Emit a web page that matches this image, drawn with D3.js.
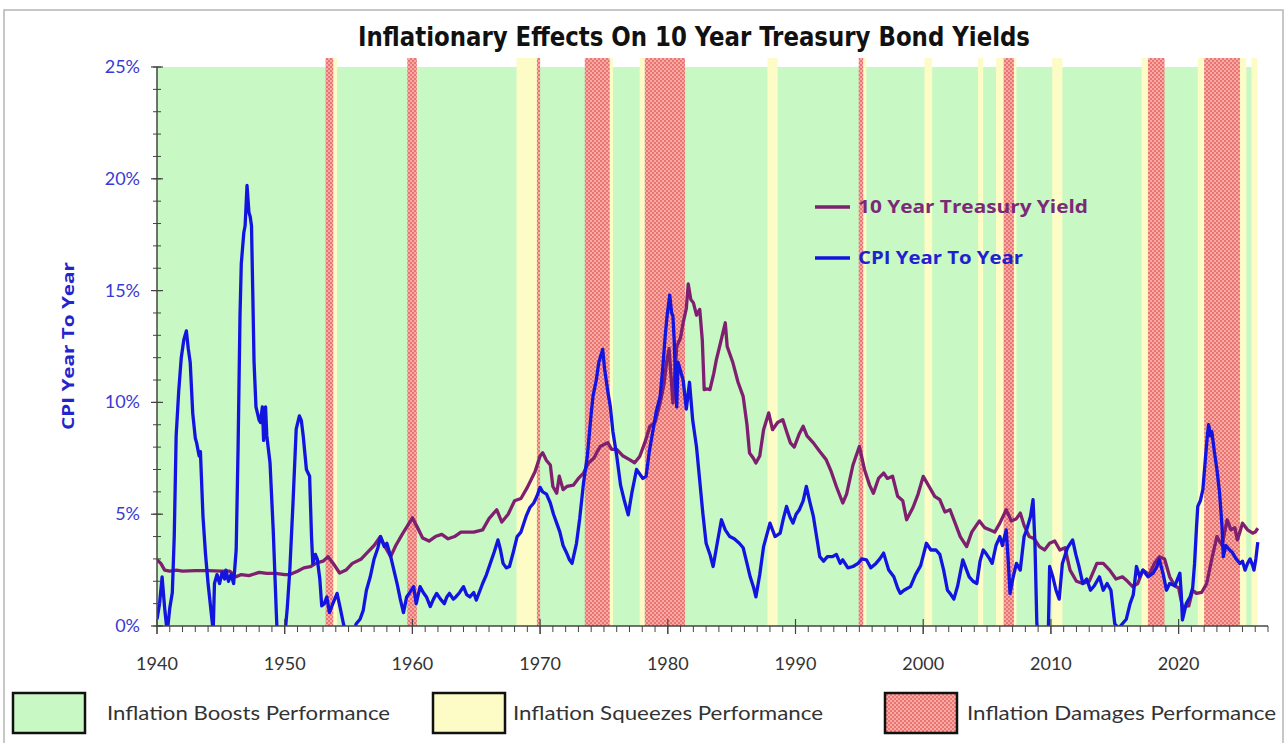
<!DOCTYPE html>
<html><head><meta charset="utf-8">
<script src="https://cdn.jsdelivr.net/npm/d3@7"></script>
<style>body{margin:0;background:#fff}svg{display:block}</style>
</head><body>
<svg id="chart" width="1287" height="743"></svg>
<script>
// ---------------- DATA ----------------
const chartTitle = "Inflationary Effects On 10 Year Treasury Bond Yields";
const yAxisTitle = "CPI Year To Year";
const xTickYears = [1940, 1950, 1960, 1970, 1980, 1990, 2000, 2010, 2020];
const yTickValues = [0, 5, 10, 15, 20, 25];
const seriesNames = ["10 Year Treasury Yield", "CPI Year To Year"];
const legendNames = ["Inflation Boosts Performance", "Inflation Squeezes Performance", "Inflation Damages Performance"];

// Regime bands [start, end]
const damageBands = [[1953.2,1953.8],[1959.6,1960.35],[1969.75,1970.0],[1973.5,1975.45],[1978.2,1981.35],
  [1994.95,1995.3],[2006.3,2007.1],[2017.6,2018.9],[2022.0,2024.8]];
const squeezeBands = [[1953.8,1954.1],[1968.15,1969.75],[1975.45,1975.7],[1977.8,1978.2],[1987.8,1988.6],
  [1995.3,1995.55],[2000.1,2000.7],[2004.3,2004.7],[2005.7,2006.3],[2007.1,2007.3],[2010.1,2010.9],
  [2017.1,2017.6],[2021.5,2022.0],[2024.8,2025.3],[2025.7,2026.15]];
const boostSpan = [1940, 2026.15];

// CPI year-over-year (%)
const cpiYears = [1940.0,1940.2,1940.4,1940.6,1940.8,1941.0,1941.2,1941.35,1941.5,1941.7,1941.9,1942.1,1942.3,1942.45,1942.6,1942.8,1943.0,1943.1,1943.3,1943.4,1943.6,1943.8,1944.0,1944.3,1944.4,1944.5,1944.7,1944.9,1945.1,1945.3,1945.4,1945.6,1945.8,1946.0,1946.2,1946.35,1946.5,1946.6,1946.8,1946.9,1947.05,1947.2,1947.3,1947.4,1947.5,1947.6,1947.75,1948.0,1948.1,1948.25,1948.35,1948.5,1948.6,1948.85,1949.1,1949.35,1949.5,1949.8,1950.0,1950.2,1950.4,1950.65,1950.9,1951.15,1951.3,1951.45,1951.7,1951.95,1952.1,1952.2,1952.4,1952.55,1952.75,1952.9,1953.1,1953.3,1953.5,1953.7,1954.1,1954.35,1954.6,1954.9,1955.3,1955.6,1955.9,1956.15,1956.4,1956.7,1957.0,1957.3,1957.5,1957.8,1958.0,1958.3,1958.55,1958.8,1959.05,1959.3,1959.55,1959.8,1960.1,1960.3,1960.6,1960.85,1961.1,1961.4,1961.65,1961.9,1962.2,1962.5,1962.7,1962.9,1963.2,1963.4,1963.7,1964.0,1964.25,1964.5,1964.8,1965.0,1965.3,1965.5,1965.8,1966.1,1966.4,1966.7,1966.9,1967.1,1967.35,1967.6,1967.9,1968.2,1968.5,1968.9,1969.2,1969.5,1969.75,1970.0,1970.2,1970.5,1970.8,1971.05,1971.3,1971.55,1971.8,1972.05,1972.3,1972.5,1972.85,1973.1,1973.4,1973.7,1974.0,1974.15,1974.4,1974.6,1974.9,1975.05,1975.3,1975.5,1975.7,1976.0,1976.3,1976.6,1976.9,1977.2,1977.55,1977.8,1978.05,1978.3,1978.55,1978.85,1979.1,1979.4,1979.6,1979.8,1979.95,1980.15,1980.3,1980.4,1980.5,1980.6,1980.7,1980.8,1981.0,1981.2,1981.45,1981.7,1981.95,1982.25,1982.5,1982.75,1983.0,1983.3,1983.55,1983.9,1984.2,1984.5,1984.85,1985.2,1985.6,1985.9,1986.2,1986.45,1986.7,1986.9,1987.2,1987.5,1988.0,1988.4,1988.8,1989.05,1989.3,1989.55,1989.8,1990.05,1990.3,1990.6,1990.85,1991.1,1991.4,1991.65,1991.9,1992.2,1992.5,1992.9,1993.2,1993.5,1993.7,1994.1,1994.5,1994.9,1995.2,1995.55,1995.9,1996.3,1996.6,1996.9,1997.3,1997.7,1998.0,1998.2,1998.5,1999.0,1999.4,1999.8,2000.25,2000.6,2001.0,2001.3,2001.6,2001.9,2002.1,2002.4,2002.7,2003.1,2003.4,2003.6,2003.9,2004.2,2004.45,2004.7,2004.9,2005.2,2005.4,2005.7,2006.0,2006.2,2006.5,2006.65,2006.8,2007.05,2007.3,2007.6,2007.9,2008.1,2008.4,2008.6,2008.75,2008.9,2009.2,2009.5,2009.8,2009.9,2010.15,2010.4,2010.65,2010.9,2011.3,2011.7,2011.95,2012.2,2012.5,2012.8,2013.1,2013.4,2013.8,2014.1,2014.4,2014.7,2015.0,2015.3,2015.6,2015.9,2016.2,2016.45,2016.7,2016.95,2017.2,2017.6,2018.0,2018.25,2018.5,2018.8,2019.05,2019.3,2019.7,2020.1,2020.2,2020.3,2020.6,2020.9,2021.1,2021.25,2021.4,2021.5,2021.7,2021.9,2022.1,2022.25,2022.35,2022.5,2022.6,2022.8,2023.0,2023.2,2023.4,2023.5,2023.7,2024.0,2024.2,2024.5,2024.8,2025.0,2025.2,2025.4,2025.6,2025.8,2025.9,2026.05,2026.2];
const cpiValues = [0.3,1.0,2.2,0.8,-0.3,0.8,1.5,4.0,8.5,10.5,12.0,12.8,13.2,12.4,11.8,9.5,8.4,8.2,7.6,7.8,4.9,3.2,1.9,0.3,-0.2,1.9,2.3,1.9,2.4,2.1,2.5,2.0,2.3,1.9,3.4,8.0,13.9,16.2,17.6,17.9,19.7,18.5,18.3,17.9,14.9,11.8,9.8,9.2,9.1,9.8,8.3,9.8,8.5,7.3,4.3,0.5,-1.5,-2.0,-0.5,0.8,2.5,5.5,8.8,9.4,9.2,8.5,7.0,6.7,4.0,2.8,3.2,3.0,2.1,0.9,1.0,1.3,0.6,0.9,1.46,0.8,0.1,-0.5,-0.4,0.1,0.3,0.7,1.6,2.2,3.0,3.5,4.0,3.55,3.7,3.1,2.5,1.9,1.2,0.6,1.3,1.5,1.76,1.0,1.76,1.5,1.3,0.87,1.2,1.46,1.2,1.0,1.3,1.46,1.2,1.3,1.5,1.76,1.4,1.3,1.5,1.16,1.6,1.9,2.3,2.8,3.3,3.85,3.4,2.8,2.6,2.66,3.3,4.0,4.2,4.9,5.3,5.5,5.8,6.2,6.0,5.9,5.5,5.0,4.6,4.2,3.6,3.3,2.96,2.8,3.7,4.8,6.4,7.6,9.5,10.3,11.0,11.8,12.37,11.5,10.5,9.8,8.7,7.6,6.3,5.6,4.97,6.0,7.0,6.8,6.6,6.7,7.8,8.78,9.6,10.27,11.5,13.0,13.9,14.8,14.0,13.86,12.8,11.0,9.8,11.8,11.4,11.0,9.7,10.9,9.2,8.0,6.5,5.0,3.7,3.2,2.66,3.8,4.75,4.3,4.0,3.9,3.7,3.5,2.8,2.2,1.76,1.3,2.3,3.55,4.6,4.0,4.15,4.8,5.35,4.9,4.6,5.0,5.2,5.6,6.24,5.6,4.9,4.0,3.1,2.9,3.1,3.1,3.2,2.8,2.96,2.6,2.66,2.8,3.0,2.96,2.6,2.8,3.0,3.26,2.5,2.2,1.7,1.46,1.6,1.76,2.3,2.7,3.7,3.4,3.4,3.2,2.5,1.6,1.46,1.2,1.8,2.96,2.5,2.2,2.0,1.9,2.9,3.4,3.26,3.0,2.8,3.6,4.0,3.6,4.3,3.0,1.46,2.2,2.8,2.5,4.0,4.3,4.9,5.65,3.7,0.1,-1.0,-2.0,-0.2,2.66,2.2,1.6,1.2,2.8,3.5,3.85,3.2,2.66,1.9,2.1,1.6,1.8,2.2,1.6,1.9,1.6,0.1,-0.1,0.1,0.3,1.0,1.4,2.66,2.2,2.5,2.2,2.36,2.6,2.96,2.3,1.6,1.9,1.8,2.36,1.5,0.27,1.0,1.3,1.7,2.8,4.4,5.35,5.6,6.1,7.5,8.5,9.0,8.5,8.7,7.8,7.0,6.0,4.45,3.1,3.6,3.4,3.3,3.0,2.8,2.9,2.5,2.8,3.0,2.7,2.5,3.0,3.75];

// 10 year Treasury yield (%)
const yieldYears = [1940.0,1940.3,1940.6,1941.0,1941.5,1942.0,1943.0,1944.0,1945.0,1945.7,1946.2,1946.6,1947.2,1948.0,1948.6,1949.3,1950.0,1950.4,1951.0,1951.5,1952.0,1952.5,1953.0,1953.4,1953.8,1954.3,1954.8,1955.3,1956.0,1956.5,1957.0,1957.5,1957.8,1958.3,1958.7,1959.2,1960.0,1960.4,1960.8,1961.3,1961.8,1962.3,1962.8,1963.3,1963.8,1964.3,1964.8,1965.5,1966.0,1966.6,1967.0,1967.5,1968.0,1968.5,1969.0,1969.6,1970.0,1970.2,1970.5,1970.8,1971.0,1971.3,1971.5,1971.8,1972.1,1972.6,1973.0,1973.4,1973.8,1974.2,1974.7,1975.3,1975.6,1976.0,1976.5,1977.0,1977.4,1977.8,1978.2,1978.6,1979.0,1979.4,1979.7,1979.9,1980.1,1980.4,1980.7,1981.0,1981.2,1981.45,1981.6,1981.8,1982.0,1982.25,1982.5,1982.7,1982.85,1983.1,1983.3,1983.6,1983.8,1984.1,1984.5,1984.65,1985.1,1985.5,1985.9,1986.2,1986.4,1986.7,1986.9,1987.2,1987.5,1987.9,1988.2,1988.6,1989.0,1989.3,1989.6,1989.9,1990.3,1990.6,1990.9,1991.4,1991.9,1992.4,1992.8,1993.2,1993.7,1994.0,1994.5,1995.0,1995.4,1995.8,1996.1,1996.5,1996.9,1997.2,1997.6,1998.0,1998.4,1998.7,1999.2,1999.6,2000.0,2000.5,2000.9,2001.3,2001.7,2002.1,2002.5,2002.9,2003.4,2003.8,2004.4,2004.8,2005.2,2005.6,2006.0,2006.5,2006.9,2007.3,2007.6,2007.9,2008.3,2008.7,2009.1,2009.5,2009.9,2010.3,2010.7,2011.1,2011.5,2012.0,2012.5,2013.0,2013.6,2014.1,2014.6,2015.1,2015.6,2016.0,2016.4,2016.8,2017.2,2017.7,2018.1,2018.5,2018.9,2019.3,2019.7,2020.0,2020.3,2020.8,2021.1,2021.4,2021.8,2022.2,2022.6,2023.0,2023.4,2023.8,2024.1,2024.4,2024.6,2024.8,2025.0,2025.4,2025.8,2026.0,2026.2];
const yieldValues = [2.96,2.8,2.5,2.45,2.5,2.45,2.48,2.48,2.45,2.45,2.2,2.3,2.25,2.4,2.35,2.35,2.3,2.3,2.45,2.6,2.65,2.82,2.9,3.1,2.8,2.37,2.5,2.8,3.0,3.3,3.6,4.0,3.6,3.1,3.6,4.1,4.84,4.4,3.94,3.8,4.0,4.1,3.9,4.0,4.2,4.2,4.2,4.3,4.8,5.2,4.65,5.0,5.6,5.7,6.2,6.9,7.6,7.75,7.4,7.2,6.24,5.94,6.7,6.1,6.24,6.3,6.6,6.84,7.3,7.5,8.03,8.2,7.9,7.9,7.6,7.44,7.3,7.58,8.2,8.93,9.1,9.98,10.8,11.77,12.4,9.98,12.5,12.9,13.56,14.2,15.3,14.6,14.46,13.9,14.16,12.8,10.57,10.6,10.57,11.3,11.9,12.6,13.56,12.5,11.77,10.9,10.27,9.0,7.74,7.5,7.29,7.6,8.78,9.53,8.78,9.1,9.23,8.7,8.19,8.0,8.6,8.93,8.5,8.19,7.8,7.44,6.9,6.24,5.5,5.9,7.2,8.03,7.0,6.3,5.94,6.6,6.84,6.6,6.7,5.8,5.6,4.75,5.3,5.9,6.69,6.2,5.8,5.65,5.1,5.2,4.6,4.0,3.55,4.2,4.7,4.4,4.3,4.2,4.6,5.2,4.7,4.8,5.05,4.5,4.0,3.9,3.55,3.4,3.7,3.8,3.4,3.5,2.5,2.0,1.9,2.0,2.8,2.8,2.5,2.1,2.2,2.0,1.76,1.9,2.5,2.3,2.8,3.1,3.0,2.2,1.8,1.7,0.87,0.9,1.6,1.46,1.5,1.9,3.0,4.0,3.6,4.75,4.3,4.4,3.85,4.2,4.6,4.3,4.15,4.2,4.37];

// ---------------- DRAW ----------------
const svg = d3.select("#chart");
const plot = {left: 157, right: 1268, top: 67, bottom: 626};
const x = d3.scaleLinear().domain([1940, 2027]).range([plot.left, plot.right]);
const y = d3.scaleLinear().domain([0, 25]).range([plot.bottom, plot.top]);
const bandTop = y(25.4);

const defs = svg.append("defs");
const pat = defs.append("pattern").attr("id","hatch").attr("patternUnits","userSpaceOnUse")
  .attr("width",4).attr("height",4);
pat.append("rect").attr("width",4).attr("height",4).attr("fill","#f7aaa6");
pat.append("rect").attr("width",2).attr("height",2).attr("fill","#e97470");
pat.append("rect").attr("x",2).attr("y",2).attr("width",2).attr("height",2).attr("fill","#e97470");
defs.append("clipPath").attr("id","clip").append("rect")
  .attr("x", plot.left).attr("y", bandTop).attr("width", plot.right-plot.left).attr("height", plot.bottom-bandTop);

const GREEN = "#c8f8c3", YELLOW = "#fdfcc6", BLUE = "#1414e0", PURPLE = "#7e1f6f";

// outer frame
svg.append("rect").attr("x",4).attr("y",10).attr("width",1279).attr("height",760)
  .attr("fill","none").attr("stroke","#b5b5b5").attr("stroke-width",1.5);

// title
svg.append("text").attr("x",694).attr("y",46).attr("text-anchor","middle")
  .attr("font-family","'Liberation Sans Narrow','DejaVu Sans Condensed',Arial,sans-serif")
  .attr("font-weight","bold").attr("font-size",26).attr("fill","#111")
  .attr("textLength",672).attr("lengthAdjust","spacingAndGlyphs").text(chartTitle);

// green background
svg.append("rect").attr("x",x(boostSpan[0])).attr("y",plot.top)
  .attr("width",x(boostSpan[1])-x(boostSpan[0])).attr("height",plot.bottom-plot.top).attr("fill",GREEN);

// bands
svg.append("g").selectAll("rect").data(squeezeBands).join("rect")
  .attr("x",d=>x(d[0])).attr("y",bandTop).attr("width",d=>x(d[1])-x(d[0])).attr("height",plot.bottom-bandTop)
  .attr("fill",YELLOW);
svg.append("g").selectAll("rect").data(damageBands).join("rect")
  .attr("x",d=>x(d[0])).attr("y",bandTop).attr("width",d=>x(d[1])-x(d[0])).attr("height",plot.bottom-bandTop)
  .attr("fill","url(#hatch)");

// lines
const cpi = cpiYears.map((t,i)=>[t,cpiValues[i]]);
const yld = yieldYears.map((t,i)=>[t,yieldValues[i]]);
const line = d3.line().x(d=>x(d[0])).y(d=>y(d[1]));
const lg = svg.append("g").attr("clip-path","url(#clip)");
lg.append("path").datum(yld).attr("d",line).attr("fill","none").attr("stroke",PURPLE)
  .attr("stroke-width",3.3).attr("stroke-linejoin","round");
lg.append("path").datum(cpi).attr("d",line).attr("fill","none").attr("stroke",BLUE)
  .attr("stroke-width",3.3).attr("stroke-linejoin","round");

// axes
const axisColor = "#444";
const xa = svg.append("g").attr("transform",`translate(0,${plot.bottom})`);
xa.append("line").attr("x1",plot.left).attr("x2",plot.right).attr("stroke",axisColor).attr("stroke-width",1.5);
xa.selectAll("line.minor").data(d3.range(1940, 2028)).join("line").attr("class","minor")
  .attr("x1",d=>x(d)).attr("x2",d=>x(d)).attr("y1",0).attr("y2",d=> d%10===0 ? 8 : 6)
  .attr("stroke",axisColor).attr("stroke-width",1);
xa.selectAll("line.major").data(xTickYears).join("line").attr("class","major")
  .attr("x1",d=>x(d)).attr("x2",d=>x(d)).attr("y1",-7).attr("y2",8)
  .attr("stroke",axisColor).attr("stroke-width",1.2);
xa.selectAll("text").data(xTickYears).join("text")
  .attr("x",d=>x(d)).attr("y",44).attr("text-anchor","middle")
  .attr("font-family","Lato,'Open Sans',sans-serif").attr("font-size",18).attr("fill","#333").text(d=>d);

const ya = svg.append("g").attr("transform",`translate(${plot.left},0)`);
ya.append("line").attr("y1",plot.top).attr("y2",plot.bottom).attr("stroke",axisColor).attr("stroke-width",1.5);
ya.selectAll("line.minor").data(d3.range(0,26)).join("line").attr("class","minor")
  .attr("y1",d=>y(d)).attr("y2",d=>y(d)).attr("x1",-4).attr("x2",4)
  .attr("stroke",axisColor).attr("stroke-width",1);
ya.selectAll("line.major").data(yTickValues).join("line").attr("class","major")
  .attr("y1",d=>y(d)).attr("y2",d=>y(d)).attr("x1",-6).attr("x2",6)
  .attr("stroke",axisColor).attr("stroke-width",1.2);
ya.selectAll("text").data(yTickValues).join("text")
  .attr("x",-17).attr("y",d=>y(d)+6).attr("text-anchor","end")
  .attr("font-family","Lato,'Open Sans',sans-serif").attr("font-size",18).attr("fill","#3a3ad4")
  .text(d=>d+"%");

// y-axis title
svg.append("text").attr("transform","translate(74,346) rotate(-90)").attr("text-anchor","middle")
  .attr("font-family","'Open Sans',Lato,sans-serif").attr("font-weight","bold").attr("font-size",16)
  .attr("fill","#2424cc").attr("textLength",168).attr("lengthAdjust","spacingAndGlyphs").text(yAxisTitle);

// series legend
const sl = svg.append("g");
[[PURPLE, 207, seriesNames[0], 230, "#7b2a78"],[BLUE, 258, seriesNames[1], 165, "#2020d0"]].forEach(([c,yy,name,w,tc])=>{
  sl.append("line").attr("x1",815).attr("x2",850).attr("y1",yy).attr("y2",yy).attr("stroke",c).attr("stroke-width",3.3);
  sl.append("text").attr("x",858).attr("y",yy+6).attr("font-family","'Open Sans',Lato,sans-serif")
    .attr("font-weight","bold").attr("font-size",17).attr("fill",tc)
    .attr("textLength",w).attr("lengthAdjust","spacingAndGlyphs").text(name);
});

// regime legend
const rl = svg.append("g");
const legItems = [
  {box:13, text:107, w:283, fill:GREEN, name:legendNames[0]},
  {box:433, text:513, w:310, fill:YELLOW, name:legendNames[1]},
  {box:885, text:967, w:309, fill:"url(#hatch)", name:legendNames[2]}];
legItems.forEach(it=>{
  rl.append("rect").attr("x",it.box).attr("y",693).attr("width",72).attr("height",40)
    .attr("fill",it.fill).attr("stroke","#111").attr("stroke-width",2.5);
  rl.append("text").attr("x",it.text).attr("y",720).attr("font-family","Lato,'Open Sans',sans-serif")
    .attr("font-size",20).attr("fill","#333").attr("textLength",it.w).attr("lengthAdjust","spacingAndGlyphs").text(it.name);
});
</script>
</body></html>
